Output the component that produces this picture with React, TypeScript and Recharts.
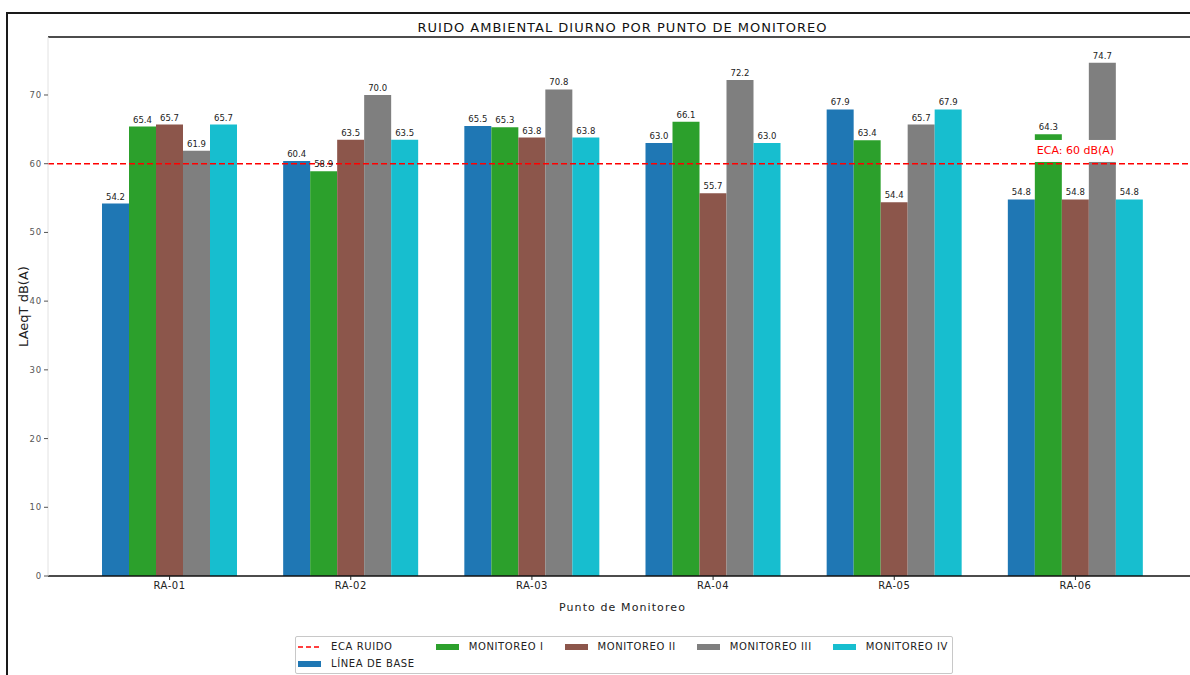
import { Bar, BarChart, LabelList, Legend, ReferenceDot, ReferenceLine, XAxis, YAxis } from "recharts";

const puntos = ["RA-01", "RA-02", "RA-03", "RA-04", "RA-05", "RA-06"];
const lineaBase = [54.2, 60.4, 65.5, 63.0, 67.9, 54.8];
const monitoreoI = [65.4, 58.9, 65.3, 66.1, 63.4, 64.3];
const monitoreoII = [65.7, 63.5, 63.8, 55.7, 54.4, 54.8];
const monitoreoIII = [61.9, 70.0, 70.8, 72.2, 65.7, 74.7];
const monitoreoIV = [65.7, 63.5, 63.8, 63.0, 67.9, 54.8];
const yTicks = [0, 10, 20, 30, 40, 50, 60, 70];
const yMax = 78.44;
const ecaRuido = 60;
const ecaTexto = "ECA: 60 dB(A)";

const series = [
  { key: "base", name: "LÍNEA DE BASE", color: "#1f77b4" },
  { key: "m1", name: "MONITOREO I", color: "#2ca02c" },
  { key: "m2", name: "MONITOREO II", color: "#8c564b" },
  { key: "m3", name: "MONITOREO III", color: "#7f7f7f" },
  { key: "m4", name: "MONITOREO IV", color: "#17becf" },
];

const data = puntos.map((punto, i) => ({
  punto,
  base: lineaBase[i],
  m1: monitoreoI[i],
  m2: monitoreoII[i],
  m3: monitoreoIII[i],
  m4: monitoreoIV[i],
}));

const font = "'DejaVu Sans', sans-serif";

function LegendItem({ label, color, dashed }: { label: string; color: string; dashed?: boolean }) {
  return (
    <div style={{ display: "flex", alignItems: "center", height: 17 }}>
      <svg width={23} height={8} style={{ marginRight: 10 }}>
        {dashed ? (
          <line x1={0} y1={4} x2={23} y2={4} stroke="red" strokeWidth={1.3} strokeDasharray="5 3" />
        ) : (
          <rect x={0} y={1} width={23} height={6} fill={color} />
        )}
      </svg>
      <span>{label}</span>
    </div>
  );
}

function LeyendaCaja() {
  return (
    <div
      style={{
        display: "flex",
        gap: 21,
        boxSizing: "border-box",
        width: 658,
        height: 38,
        padding: "1px 0 0 2px",
        border: "1px solid #c8c8c8",
        borderRadius: 2,
        background: "#fff",
        fontFamily: font,
        fontSize: 10,
        letterSpacing: 0.6,
        color: "#222",
      }}
    >
      <div>
        <LegendItem label="ECA RUIDO" color="red" dashed />
        <LegendItem label={series[0].name} color={series[0].color} />
      </div>
      {series.slice(1).map((s) => (
        <div key={s.key}>
          <LegendItem label={s.name} color={s.color} />
        </div>
      ))}
    </div>
  );
}

function EcaEtiqueta(props: any) {
  const { cx, cy } = props;
  if (cx == null || cy == null) return null;
  return (
    <g>
      <rect x={cx - 43} y={cy - 10} width={86} height={22} fill="#fff" />
      <text
        x={cx}
        y={cy + 1}
        textAnchor="middle"
        dominantBaseline="central"
        fill="red"
        fontSize={11}
        fontFamily={font}
      >
        {ecaTexto}
      </text>
    </g>
  );
}

export default function App() {
  return (
    <div
      style={{
        position: "absolute",
        left: 0,
        top: 0,
        width: 1190,
        height: 675,
        overflow: "hidden",
        background: "#fff",
      }}
    >
      <div
        style={{
          position: "absolute",
          left: 6,
          top: 12,
          width: 1300,
          height: 800,
          border: "2px solid #1a1a1a",
        }}
      />
      <div
        style={{
          position: "absolute",
          left: 48,
          top: 19,
          width: 1149,
          textAlign: "center",
          fontFamily: font,
          fontSize: 13,
          letterSpacing: 1,
          lineHeight: "17px",
          color: "#111",
        }}
      >
        RUIDO AMBIENTAL DIURNO POR PUNTO DE MONITOREO
      </div>
      <div style={{ position: "absolute", left: 0, top: 0 }}>
        <BarChart
          width={1262}
          height={675}
          data={data}
          margin={{ top: 36, right: 65, bottom: 54, left: 8 }}
          barGap={0}
          barSize={27}
          style={{ fontFamily: font }}
        >
          <XAxis
            dataKey="punto"
            height={45}
            padding={{ left: 31, right: 31 }}
            tick={{ fontSize: 10, fill: "#222", letterSpacing: 0.5 }}
            tickLine={{ stroke: "#222" }}
            tickSize={4}
            axisLine={{ stroke: "#111", strokeWidth: 1.5 }}
            label={{
              value: "Punto de Monitoreo",
              position: "insideBottom",
              offset: 10,
              style: { fontSize: 11, fill: "#222", letterSpacing: 1.1 },
            }}
          />
          <XAxis
            xAxisId="top"
            dataKey="punto"
            orientation="top"
            height={1}
            tick={false}
            tickLine={false}
            axisLine={{ stroke: "#111", strokeWidth: 1.5 }}
          />
          <YAxis
            width={40}
            domain={[0, yMax]}
            ticks={yTicks}
            allowDataOverflow
            tick={{ fontSize: 8.5, fill: "#555", letterSpacing: 0.8 }}
            tickLine={{ stroke: "#555" }}
            tickSize={4}
            axisLine={{ stroke: "#e2e2e2" }}
            label={{
              value: "LAeqT dB(A)",
              angle: -90,
              position: "insideLeft",
              offset: 15,
              style: { textAnchor: "middle", fontSize: 13, fill: "#222" },
            }}
          />
          {series.map((s) => (
            <Bar key={s.key} dataKey={s.key} name={s.name} fill={s.color} isAnimationActive={false}>
              <LabelList
                dataKey={s.key}
                position="top"
                offset={4}
                fontSize={8.5}
                fill="#222"
                formatter={(v: any) => Number(v).toFixed(1)}
              />
            </Bar>
          ))}
          <ReferenceLine
            y={ecaRuido}
            stroke="red"
            strokeWidth={1.5}
            strokeDasharray="6 3"
          />
          <ReferenceDot x={puntos[5]} y={62} r={0} shape={EcaEtiqueta} />
          <Legend
            verticalAlign="middle"
            align="center"
            wrapperStyle={{ left: 295, top: 636, width: 658, height: 38 }}
            content={() => <LeyendaCaja />}
          />
        </BarChart>
      </div>
    </div>
  );
}
